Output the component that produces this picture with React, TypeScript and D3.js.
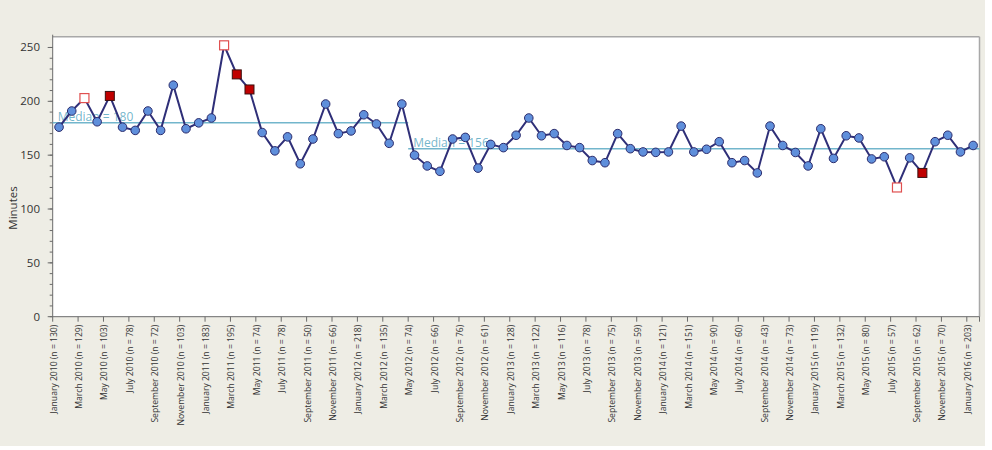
import React from "react";
import * as d3 from "d3";

// ---- data ----
const values: number[] = [
  176, 191, 203, 181, 205, 176, 173, 191, 173, 215, 174.5, 180,
  184.5, 252, 225, 211, 171, 154, 167, 142, 165, 197.5, 170, 172.5,
  187.5, 179, 161, 197.5, 150, 140, 135, 165, 166.5, 138, 160, 157,
  168.5, 184.5, 168, 170, 159, 157, 145, 143, 170, 156, 153, 152.6,
  153, 177, 153, 155.5, 162.5, 143, 145, 133.5, 177, 159, 152.5, 140,
  174.5, 147, 168, 166, 146.5, 148.5, 120, 147.5, 133.5, 162.5, 168.5, 153,
  159,
];
// special-cause markers: "open" = hollow square, "filled" = filled square
const openSquares: number[] = [2, 13, 66];
const filledSquares: number[] = [4, 14, 15, 68];

const tickLabels: string[] = [
  "January 2010 (n = 130)", "March 2010 (n = 129)", "May 2010 (n = 103)", "July 2010 (n = 78)",
  "September 2010 (n = 72)", "November 2010 (n = 103)", "January 2011 (n = 183)", "March 2011 (n = 195)",
  "May 2011 (n = 74)", "July 2011 (n = 78)", "September 2011 (n = 50)", "November 2011 (n = 66)",
  "January 2012 (n = 218)", "March 2012 (n = 135)", "May 2012 (n = 74)", "July 2012 (n = 66)",
  "September 2012 (n = 76)", "November 2012 (n = 61)", "January 2013 (n = 128)", "March 2013 (n = 122)",
  "May 2013 (n = 116)", "July 2013 (n = 78)", "September 2013 (n = 75)", "November 2013 (n = 59)",
  "January 2014 (n = 121)", "March 2014 (n = 151)", "May 2014 (n = 90)", "July 2014 (n = 60)",
  "September 2014 (n = 43)", "November 2014 (n = 73)", "January 2015 (n = 119)", "March 2015 (n = 132)",
  "May 2015 (n = 80)", "July 2015 (n = 57)", "September 2015 (n = 62)", "November 2015 (n = 70)",
  "January 2016 (n = 203)",
];

const medianStarts: number[] = [0, 28];
const medianEnds: number[] = [27, 72];
const medianValues: number[] = [180, 156];

const yTicks: number[] = [0, 50, 100, 150, 200, 250];

// ---- layout ----
const W = 992;
const H = 450;
const left = 52.7;
const right = 979.5;
const top = 36.7;
const bottom = 316.7;
const FONT = "'Segoe UI', 'Open Sans', sans-serif";

export default function App() {
  const idx = values.map((_, i) => i);
  const x = d3.scalePoint<number>().domain(idx).range([left, right]).padding(0.5);
  const step = x.step();
  const y = d3.scaleLinear().domain([0, 260]).range([bottom, top]);
  const line = d3
    .line<number>()
    .x((_, i) => x(i) as number)
    .y((d) => y(d));

  const minorTicks = d3.range(0, 260, 10);
  const special = new Set([...openSquares, ...filledSquares]);

  return (
    <svg
      width={W}
      height={H}
      style={{ position: "absolute", left: 0, top: 0, display: "block" }}
    >
      <rect x={0} y={0} width={985} height={446} fill="#eeede5" />
      <rect x={left} y={top} width={right - left} height={bottom - top} fill="#ffffff" />
      {/* frame */}
      <line x1={left} x2={right} y1={top} y2={top} stroke="#a8a8a8" strokeWidth={1.5} />
      <line x1={right} x2={right} y1={top} y2={bottom} stroke="#a8a8a8" strokeWidth={1.5} />
      <line x1={left} x2={left} y1={top - 2} y2={bottom} stroke="#6a6a6a" strokeWidth={1} />
      <line x1={left} x2={right} y1={bottom} y2={bottom} stroke="#6a6a6a" strokeWidth={1} />

      {/* y ticks */}
      {minorTicks.map((t) => (
        <line key={"m" + t} x1={left - 3} x2={left} y1={y(t)} y2={y(t)} stroke="#6a6a6a" />
      ))}
      {yTicks.map((t) => (
        <g key={"y" + t}>
          <line x1={left - 5} x2={left} y1={y(t)} y2={y(t)} stroke="#6a6a6a" />
          <text
            x={40}
            y={y(t)}
            dy="0.35em"
            textAnchor="end"
            fontSize={11.5}
            fontFamily={FONT}
            fill="#333"
          >
            {t}
          </text>
        </g>
      ))}
      <text
        transform={`translate(13,208) rotate(-90)`}
        textAnchor="middle"
        dy="0.35em"
        fontSize={11.5}
        fontFamily={FONT}
        fill="#333"
      >
        Minutes
      </text>

      {/* x ticks */}
      {tickLabels.map((lab, k) => {
        const i = k * 2;
        const tx = (x(i) as number) - step / 2;
        return (
          <g key={"x" + k}>
            <line x1={tx} x2={tx} y1={bottom} y2={bottom + 5} stroke="#6a6a6a" />
            <text
              transform={`translate(${tx + 1},${bottom + 8}) rotate(-90)`}
              textAnchor="end"
              dy="0.35em"
              fontSize={8.6}
              fontFamily={FONT}
              fill="#333"
            >
              {lab}
            </text>
          </g>
        );
      })}
      <line x1={right} x2={right} y1={bottom} y2={bottom + 5} stroke="#6a6a6a" />

      {/* medians */}
      {medianValues.map((m, k) => {
        const x1 = k === 0 ? left : (x(medianStarts[k]) as number) - step / 2;
        const x2 = k === medianValues.length - 1 ? right : (x(medianEnds[k]) as number) + step / 2;
        return (
          <g key={"med" + k}>
            <line x1={x1} x2={x2} y1={y(m)} y2={y(m)} stroke="#72b6cc" strokeWidth={1.5} />
            <text
              x={x1 + 5}
              y={y(m) - 2}
              fontSize={12}
              fontFamily={FONT}
              fill="#5aa9c2"
              fillOpacity={0.85}
            >
              {`Median = ${m}`}
            </text>
          </g>
        );
      })}

      {/* series line */}
      <path d={line(values) || ""} fill="none" stroke="#2f2f78" strokeWidth={2} />

      {/* markers */}
      {values.map((v, i) =>
        special.has(i) ? null : (
          <circle
            key={"c" + i}
            cx={x(i) as number}
            cy={y(v)}
            r={4.3}
            fill="#5f8fdb"
            stroke="#2c2c6c"
            strokeWidth={1}
          />
        )
      )}
      {openSquares.map((i) => (
        <rect
          key={"o" + i}
          x={(x(i) as number) - 4.5}
          y={y(values[i]) - 4.5}
          width={9}
          height={9}
          fill="#ffffff"
          stroke="#e05050"
          strokeWidth={1.2}
        />
      ))}
      {filledSquares.map((i) => (
        <rect
          key={"f" + i}
          x={(x(i) as number) - 4.5}
          y={y(values[i]) - 4.5}
          width={9}
          height={9}
          fill="#c00000"
          stroke="#3a1010"
          strokeWidth={1}
        />
      ))}
    </svg>
  );
}
